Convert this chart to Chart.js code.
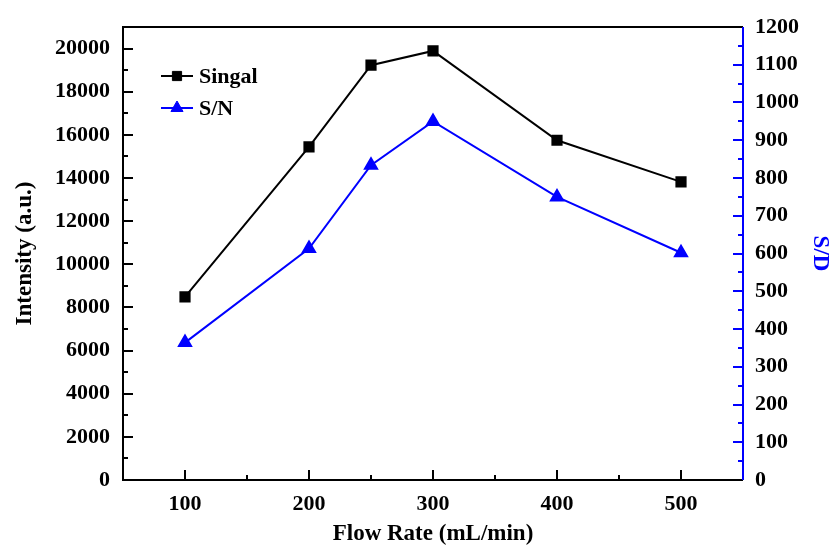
<!DOCTYPE html>
<html>
<head>
<meta charset="utf-8">
<script src="https://cdn.jsdelivr.net/npm/chart.js@4.4.0/dist/chart.umd.min.js"></script>
<style>
  html, body { margin: 0; padding: 0; background: #fff; }
  #wrap { width: 840px; height: 548px; }
</style>
</head>
<body>
<div id="wrap"><canvas id="flowChart" width="840" height="548"></canvas></div>
<script>
// flow rate (mL/min)
const flowRates = [100, 200, 250, 300, 400, 500];
// intensity (a.u.), left axis
const signalValues = [8490, 15440, 19230, 19890, 15750, 13820];
// S/N, right axis
const snValues = [364, 613, 834, 950, 750, 602];

const xTicks = [100, 200, 300, 400, 500];
const leftTicks = [0, 2000, 4000, 6000, 8000, 10000, 12000, 14000, 16000, 18000, 20000];
const rightTicks = [0, 100, 200, 300, 400, 500, 600, 700, 800, 900, 1000, 1100, 1200];

const FONT = '"Liberation Serif", "Times New Roman", serif';
const BLUE = '#0000ff';
const plain = v => String(v);

// ticks inside the plot, major + minor, drawn by hand (Chart.js has no minor ticks)
const innerTicks = {
    id: 'innerTicks',
    afterDraw(chart) {
        const ctx = chart.ctx;
        const a = chart.chartArea;
        const sx = chart.scales.x, sl = chart.scales.yLeft, sr = chart.scales.yRight;
        ctx.save();
        ctx.lineWidth = 2;

        ctx.strokeStyle = '#000';
        ctx.beginPath();
        for (let v = 100; v <= 500; v += 50) {
            const x = Math.round(sx.getPixelForValue(v));
            const len = v % 100 === 0 ? 10 : 5;
            ctx.moveTo(x, a.bottom); ctx.lineTo(x, a.bottom - len);
        }
        for (let v = 1000; v <= 20000; v += 1000) {
            const y = Math.round(sl.getPixelForValue(v));
            const len = v % 2000 === 0 ? 10 : 5;
            ctx.moveTo(a.left, y); ctx.lineTo(a.left + len, y);
        }
        ctx.stroke();

        ctx.strokeStyle = BLUE;
        ctx.beginPath();
        for (let v = 50; v < 1200; v += 50) {
            const y = Math.round(sr.getPixelForValue(v));
            const len = v % 100 === 0 ? 10 : 5;
            ctx.moveTo(a.right, y); ctx.lineTo(a.right - len, y);
        }
        ctx.stroke();

        // frame
        ctx.strokeStyle = '#000';
        ctx.beginPath();
        ctx.moveTo(a.right, a.top); ctx.lineTo(a.left, a.top);
        ctx.lineTo(a.left, a.bottom); ctx.lineTo(a.right, a.bottom);
        ctx.stroke();
        ctx.strokeStyle = BLUE;
        ctx.beginPath();
        ctx.moveTo(a.right, a.top); ctx.lineTo(a.right, a.bottom);
        ctx.stroke();

        // legend inside the plot
        ctx.font = 'bold 22px ' + FONT;
        ctx.textBaseline = 'middle';
        chart.data.datasets.forEach((ds, i) => {
            const y = 76 + i * 32;
            ctx.strokeStyle = ds.borderColor;
            ctx.lineWidth = 2;
            ctx.beginPath();
            ctx.moveTo(161, y); ctx.lineTo(193, y);
            ctx.stroke();
            ctx.fillStyle = ds.pointBackgroundColor;
            ctx.strokeStyle = ds.pointBorderColor;
            ctx.lineWidth = 1;
            Chart.helpers.drawPoint(ctx, {pointStyle: ds.pointStyle, radius: ds.pointRadius, borderWidth: 1}, 177, y);
            ctx.fillStyle = '#000';
            ctx.fillText(ds.label, 199, y + 1);
        });
        ctx.restore();
    }
};

new Chart(document.getElementById('flowChart'), {
    type: 'line',
    data: {
        datasets: [{
            label: 'Singal',
            data: flowRates.map((x, i) => ({x, y: signalValues[i]})),
            yAxisID: 'yLeft',
            borderColor: '#000',
            backgroundColor: '#000',
            pointBackgroundColor: '#000',
            pointBorderColor: '#000',
            pointStyle: 'rect',
            pointRadius: 6.5,
            borderWidth: 2,
            tension: 0
        }, {
            label: 'S/N',
            data: flowRates.map((x, i) => ({x, y: snValues[i]})),
            yAxisID: 'yRight',
            borderColor: BLUE,
            backgroundColor: BLUE,
            pointBackgroundColor: BLUE,
            pointBorderColor: BLUE,
            pointStyle: 'triangle',
            pointRadius: 7,
            borderWidth: 2,
            tension: 0
        }]
    },
    options: {
        responsive: false,
        animation: false,
        layout: { padding: { top: 27, left: 0, right: 0, bottom: 0 } },
        plugins: { legend: { display: false }, tooltip: { enabled: false } },
        scales: {
            x: {
                type: 'linear',
                min: 50, max: 550,
                afterBuildTicks: s => { s.ticks = xTicks.map(v => ({value: v})); },
                afterFit: s => { s.height = 68; },
                grid: { display: false, drawTicks: false },
                border: { display: false },
                ticks: { color: '#000', padding: 11, callback: plain, font: { family: FONT, size: 22, weight: 'bold' } },
                title: { display: true, text: 'Flow Rate (mL/min)', color: '#000', padding: { top: 2, bottom: 0 },
                         font: { family: FONT, size: 23, weight: 'bold' } }
            },
            yLeft: {
                type: 'linear',
                position: 'left',
                min: 0, max: 21000,
                afterBuildTicks: s => { s.ticks = leftTicks.map(v => ({value: v})); },
                afterFit: s => { s.width = 123; },
                grid: { display: false, drawTicks: false },
                border: { display: false },
                ticks: { color: '#000', padding: 13, callback: plain, font: { family: FONT, size: 22, weight: 'bold' } },
                title: { display: true, text: 'Intensity (a.u.)', color: '#000', padding: { top: 11, bottom: 0 },
                         font: { family: FONT, size: 23, weight: 'bold' } }
            },
            yRight: {
                type: 'linear',
                position: 'right',
                min: 0, max: 1200,
                afterBuildTicks: s => { s.ticks = rightTicks.map(v => ({value: v})); },
                afterFit: s => { s.width = 97; },
                grid: { display: false, drawTicks: false },
                border: { display: false },
                ticks: { color: '#000', padding: 12, callback: plain, font: { family: FONT, size: 22, weight: 'bold' } },
                title: { display: true, text: 'S/D', color: BLUE, padding: { top: 6, bottom: 0 },
                         font: { family: FONT, size: 23, weight: 'bold' } }
            }
        }
    },
    plugins: [innerTicks]
});
</script>
</body>
</html>
